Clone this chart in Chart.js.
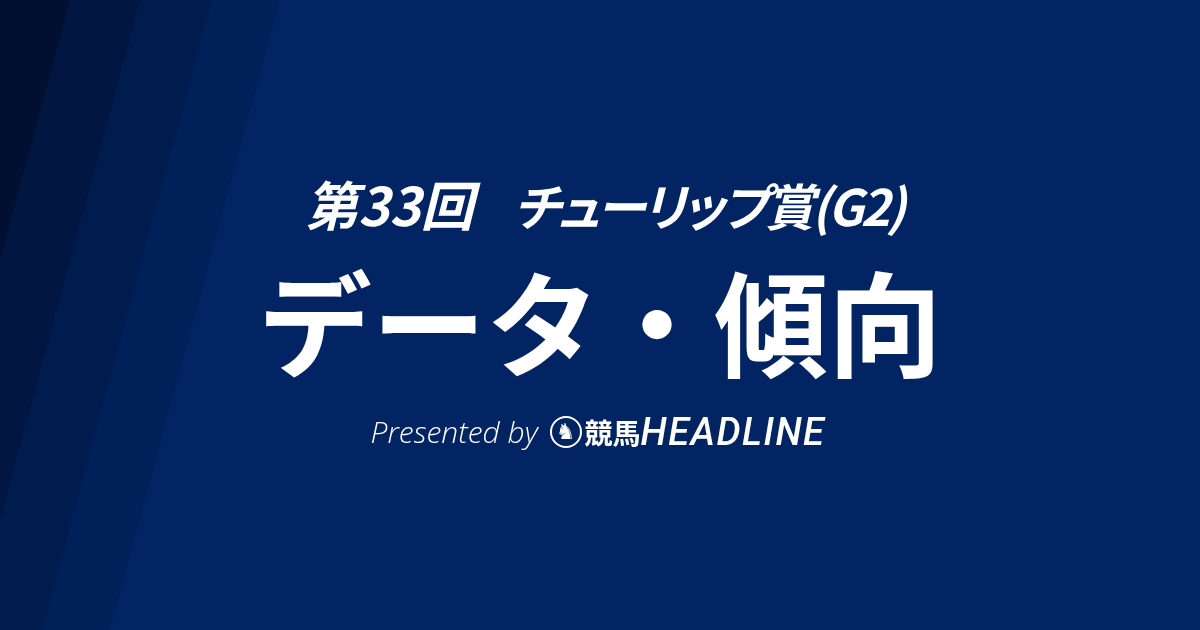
<!DOCTYPE html>
<html lang="ja">
<head>
<meta charset="utf-8">
<script src="https://cdn.jsdelivr.net/npm/chart.js@4"></script>
<style>
  html, body { margin: 0; padding: 0; }
  body { width: 1200px; height: 630px; background: #022462; overflow: hidden; }
  #wrap { position: relative; width: 1200px; height: 630px; }
  #bg { position: absolute; left: 0; top: 0; }
  .line { position: absolute; left: 0; width: 1200px; text-align: center; color: #fff; white-space: nowrap; line-height: 1; }
  #race {
    top: 177px; left: 4px;
    font-family: "Noto Sans CJK JP", sans-serif; font-weight: 700; font-style: italic;
    font-feature-settings: "palt";
  }
  #race .no { font-size: 53px; letter-spacing: 0px; }
  #race .name { font-size: 50px; letter-spacing: -3px; margin-left: 40px; }
  #main {
    top: 262px; left: 0px;
    font-family: "Noto Sans CJK JP", sans-serif; font-weight: 700;
    font-size: 114px;
  }
  #by { top: 413px; left: -2px; display: flex; justify-content: center; align-items: center; }
  #by .pre { font-family: "Open Sans", sans-serif; font-weight: 300; font-style: italic; font-size: 30px; margin-right: 12px; }
  #by .logo {
    width: 28px; height: 28px; border: 2px solid #fff; border-radius: 50%;
    display: inline-flex; align-items: center; justify-content: center;
    font-family: "DejaVu Sans", sans-serif; font-size: 22px; line-height: 1; margin-right: 3px;
  }
  #by .kj { font-family: "Noto Sans CJK JP", sans-serif; font-weight: 700; font-size: 28px; }
  #by .hl { font-family: Roboto, sans-serif; font-weight: 500; font-style: italic; font-size: 38px; letter-spacing: 1.5px; }
</style>
</head>
<body>
<div id="wrap">
  <canvas id="bg"></canvas>
  <div class="line" id="race"><span class="no">第33回</span><span class="name">チューリップ賞(G2)</span></div>
  <div class="line" id="main">データ・傾向</div>
  <div class="line" id="by"><span class="pre">Presented by</span><span class="logo">♞</span><span class="kj">競馬</span><span class="hl">HEADLINE</span></div>
</div>
<script>
// diagonal shade bands on the left
const bandTopX = [70, 140, 212, 280];      // edge x at the top of the image
const bandBottomX = [-100, -30, 42, 110];  // edge x at the bottom of the image
const bandY = [0, 630];
const bandColors = ['#010f30', '#011641', '#001b4e', '#00205a'];

const datasets = bandTopX.map((top, i) => ({
    data: [{ x: top, y: bandY[0] }, { x: bandBottomX[i], y: bandY[1] }],
    backgroundColor: bandColors[i],
    borderWidth: 0,
    pointRadius: 0,
    fill: 'origin'
}));

const canvas = document.getElementById('bg');
canvas.width = 1200;
canvas.height = 630;

new Chart(canvas, {
    type: 'line',
    data: { datasets },
    options: {
        indexAxis: 'y',
        responsive: false,
        animation: false,
        events: [],
        layout: { padding: 0 },
        plugins: { legend: { display: false }, tooltip: { enabled: false } },
        scales: {
            x: { type: 'linear', min: 0, max: 1200, display: false },
            y: { type: 'linear', min: 0, max: 630, reverse: true, display: false }
        }
    }
});
</script>
</body>
</html>
